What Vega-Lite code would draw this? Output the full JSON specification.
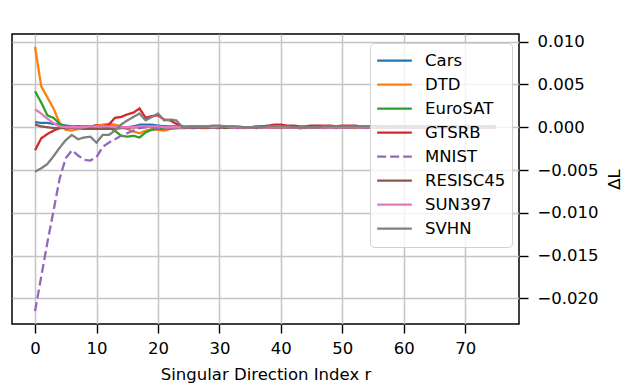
{
  "$schema": "https://vega.github.io/schema/vega-lite/v6.json",
  "width": 507,
  "height": 290,
  "padding": {"left": 12, "top": 33, "right": 0, "bottom": 0},
  "background": "white",
  "config": {
    "font": "DejaVu Sans",
    "view": {"stroke": "black", "strokeWidth": 1.5},
    "axis": {
      "domain": false,
      "grid": true,
      "gridColor": "#c4c4c4",
      "gridWidth": 1.5,
      "tickColor": "black",
      "tickWidth": 1.4,
      "tickSize": 9,
      "labelFontSize": 16.5,
      "labelColor": "black",
      "labelPadding": 7,
      "titleFontSize": 16.5,
      "titleFontWeight": "normal",
      "titleColor": "black"
    },
    "legend": {
      "title": null,
      "orient": "none",
      "legendX": 358,
      "legendY": 9,
      "fillColor": "rgba(255,255,255,0.8)",
      "strokeColor": "#d0d0d0",
      "cornerRadius": 4,
      "padding": 6,
      "symbolType": "stroke",
      "symbolSize": 1200,
      "symbolStrokeWidth": 2.3,
      "labelFontSize": 16.5,
      "labelColor": "black",
      "labelOffset": 12,
      "clipHeight": 23.3,
      "rowPadding": 0
    }
  },
  "data": {
    "values": [
      {"r":0,"Cars":0.0006,"DTD":0.0094,"EuroSAT":0.0042,"GTSRB":-0.0027,"MNIST":-0.0215,"RESISC45":0.0003,"SUN397":0.0021,"SVHN":-0.0052},
      {"r":1,"Cars":0.0005,"DTD":0.0048,"EuroSAT":0.0029,"GTSRB":-0.0013,"MNIST":-0.0175,"RESISC45":0.0001,"SUN397":0.0016,"SVHN":-0.0048},
      {"r":2,"Cars":0.0005,"DTD":0.0035,"EuroSAT":0.0014,"GTSRB":-0.0008,"MNIST":-0.0135,"RESISC45":0.0,"SUN397":0.0010,"SVHN":-0.0043},
      {"r":3,"Cars":0.0004,"DTD":0.0022,"EuroSAT":0.0011,"GTSRB":-0.0004,"MNIST":-0.0098,"RESISC45":-0.0001,"SUN397":0.0005,"SVHN":-0.0034},
      {"r":4,"Cars":0.0003,"DTD":0.0005,"EuroSAT":0.0004,"GTSRB":-0.0001,"MNIST":-0.0060,"RESISC45":-0.0001,"SUN397":0.0001,"SVHN":-0.0024},
      {"r":5,"Cars":0.0002,"DTD":-0.0003,"EuroSAT":0.0001,"GTSRB":0.0,"MNIST":-0.0036,"RESISC45":-0.0001,"SUN397":0.0,"SVHN":-0.0015},
      {"r":6,"Cars":0.0001,"DTD":-0.0004,"EuroSAT":0.0,"GTSRB":0.0,"MNIST":-0.0027,"RESISC45":-0.0001,"SUN397":0.0,"SVHN":-0.0009},
      {"r":7,"Cars":0.0001,"DTD":-0.0002,"EuroSAT":0.0,"GTSRB":0.0001,"MNIST":-0.0033,"RESISC45":-0.0001,"SUN397":0.0,"SVHN":-0.0014},
      {"r":8,"Cars":0.0001,"DTD":0.0,"EuroSAT":0.0,"GTSRB":0.0,"MNIST":-0.0038,"RESISC45":-0.0002,"SUN397":0.0,"SVHN":-0.0012},
      {"r":9,"Cars":0.0001,"DTD":0.0001,"EuroSAT":0.0001,"GTSRB":0.0001,"MNIST":-0.0039,"RESISC45":-0.0002,"SUN397":0.0001,"SVHN":-0.0011},
      {"r":10,"Cars":0.0002,"DTD":0.0002,"EuroSAT":0.0001,"GTSRB":0.0002,"MNIST":-0.0035,"RESISC45":-0.0002,"SUN397":0.0001,"SVHN":-0.0018},
      {"r":11,"Cars":0.0002,"DTD":0.0003,"EuroSAT":0.0001,"GTSRB":0.0001,"MNIST":-0.0023,"RESISC45":-0.0002,"SUN397":0.0001,"SVHN":-0.0009},
      {"r":12,"Cars":0.0001,"DTD":0.0004,"EuroSAT":0.0,"GTSRB":0.0003,"MNIST":-0.0018,"RESISC45":-0.0002,"SUN397":0.0001,"SVHN":-0.0009},
      {"r":13,"Cars":0.0001,"DTD":0.0003,"EuroSAT":-0.0004,"GTSRB":0.0011,"MNIST":-0.0014,"RESISC45":-0.0002,"SUN397":0.0,"SVHN":-0.0004},
      {"r":14,"Cars":0.0,"DTD":0.0001,"EuroSAT":-0.0010,"GTSRB":0.0012,"MNIST":-0.0010,"RESISC45":-0.0001,"SUN397":0.0,"SVHN":0.0003},
      {"r":15,"Cars":0.0,"DTD":-0.0002,"EuroSAT":-0.0011,"GTSRB":0.0015,"MNIST":-0.0007,"RESISC45":-0.0001,"SUN397":0.0,"SVHN":0.0008},
      {"r":16,"Cars":0.0001,"DTD":-0.0005,"EuroSAT":-0.0010,"GTSRB":0.0017,"MNIST":-0.0004,"RESISC45":0.0,"SUN397":0.0,"SVHN":0.0012},
      {"r":17,"Cars":0.0003,"DTD":-0.0007,"EuroSAT":-0.0012,"GTSRB":0.0022,"MNIST":-0.0001,"RESISC45":0.0,"SUN397":0.0001,"SVHN":0.0016},
      {"r":18,"Cars":0.0003,"DTD":-0.0004,"EuroSAT":-0.0006,"GTSRB":0.0011,"MNIST":0.0,"RESISC45":0.0001,"SUN397":0.0001,"SVHN":0.0008},
      {"r":19,"Cars":0.0003,"DTD":-0.0002,"EuroSAT":-0.0003,"GTSRB":0.0013,"MNIST":0.0,"RESISC45":0.0001,"SUN397":0.0001,"SVHN":0.0012},
      {"r":20,"Cars":0.0002,"DTD":-0.0003,"EuroSAT":-0.0002,"GTSRB":0.0014,"MNIST":-0.0001,"RESISC45":0.0001,"SUN397":0.0001,"SVHN":0.0016},
      {"r":21,"Cars":0.0001,"DTD":-0.0004,"EuroSAT":-0.0002,"GTSRB":0.0009,"MNIST":-0.0002,"RESISC45":0.0001,"SUN397":0.0,"SVHN":0.0008},
      {"r":22,"Cars":0.0001,"DTD":-0.0002,"EuroSAT":-0.0001,"GTSRB":0.0008,"MNIST":-0.0002,"RESISC45":0.0,"SUN397":0.0,"SVHN":0.0009},
      {"r":23,"Cars":0.0001,"DTD":-0.0001,"EuroSAT":-0.0001,"GTSRB":0.0004,"MNIST":-0.0001,"RESISC45":0.0,"SUN397":0.0,"SVHN":0.0008},
      {"r":24,"Cars":0.0,"DTD":0.0,"EuroSAT":0.0,"GTSRB":0.0001,"MNIST":-0.0001,"RESISC45":0.0,"SUN397":0.0,"SVHN":0.0},
      {"r":25,"Cars":0.0,"DTD":0.0001,"EuroSAT":0.0,"GTSRB":0.0,"MNIST":-0.0001,"RESISC45":0.0,"SUN397":0.0001,"SVHN":0.0001},
      {"r":26,"Cars":0.0,"DTD":0.0,"EuroSAT":0.0,"GTSRB":0.0001,"MNIST":-0.0001,"RESISC45":0.0,"SUN397":0.0001,"SVHN":0.0001},
      {"r":27,"Cars":0.0001,"DTD":-0.0001,"EuroSAT":0.0,"GTSRB":0.0,"MNIST":0.0,"RESISC45":0.0,"SUN397":0.0001,"SVHN":0.0001},
      {"r":28,"Cars":0.0,"DTD":-0.0001,"EuroSAT":0.0001,"GTSRB":0.0,"MNIST":0.0,"RESISC45":0.0,"SUN397":0.0001,"SVHN":0.0001},
      {"r":29,"Cars":0.0,"DTD":0.0,"EuroSAT":0.0,"GTSRB":0.0001,"MNIST":-0.0001,"RESISC45":0.0,"SUN397":0.0,"SVHN":0.0002},
      {"r":30,"Cars":0.0,"DTD":0.0,"EuroSAT":0.0,"GTSRB":0.0001,"MNIST":-0.0001,"RESISC45":0.0,"SUN397":0.0001,"SVHN":0.0002},
      {"r":31,"Cars":0.0001,"DTD":0.0,"EuroSAT":-0.0001,"GTSRB":0.0,"MNIST":0.0,"RESISC45":0.0,"SUN397":0.0001,"SVHN":0.0001},
      {"r":32,"Cars":0.0,"DTD":0.0,"EuroSAT":0.0,"GTSRB":0.0001,"MNIST":0.0,"RESISC45":0.0,"SUN397":0.0,"SVHN":0.0001},
      {"r":33,"Cars":0.0,"DTD":-0.0001,"EuroSAT":0.0,"GTSRB":0.0,"MNIST":-0.0001,"RESISC45":0.0,"SUN397":0.0,"SVHN":0.0001},
      {"r":34,"Cars":0.0,"DTD":0.0,"EuroSAT":0.0,"GTSRB":0.0,"MNIST":-0.0001,"RESISC45":0.0,"SUN397":0.0,"SVHN":0.0},
      {"r":35,"Cars":0.0,"DTD":0.0,"EuroSAT":0.0,"GTSRB":0.0,"MNIST":0.0,"RESISC45":0.0,"SUN397":0.0,"SVHN":0.0},
      {"r":36,"Cars":0.0,"DTD":0.0,"EuroSAT":0.0,"GTSRB":0.0001,"MNIST":-0.0001,"RESISC45":-0.0001,"SUN397":0.0,"SVHN":0.0},
      {"r":37,"Cars":0.0001,"DTD":0.0,"EuroSAT":0.0,"GTSRB":0.0001,"MNIST":0.0,"RESISC45":0.0,"SUN397":0.0,"SVHN":0.0},
      {"r":38,"Cars":0.0,"DTD":0.0,"EuroSAT":0.0001,"GTSRB":0.0002,"MNIST":0.0,"RESISC45":0.0,"SUN397":0.0,"SVHN":0.0001},
      {"r":39,"Cars":0.0,"DTD":-0.0001,"EuroSAT":0.0,"GTSRB":0.0003,"MNIST":0.0,"RESISC45":0.0,"SUN397":0.0,"SVHN":0.0001},
      {"r":40,"Cars":0.0,"DTD":0.0,"EuroSAT":0.0,"GTSRB":0.0003,"MNIST":-0.0001,"RESISC45":0.0,"SUN397":0.0,"SVHN":0.0001},
      {"r":41,"Cars":0.0,"DTD":0.0,"EuroSAT":0.0,"GTSRB":0.0002,"MNIST":0.0,"RESISC45":0.0,"SUN397":0.0,"SVHN":0.0001},
      {"r":42,"Cars":0.0,"DTD":0.0,"EuroSAT":0.0001,"GTSRB":0.0002,"MNIST":0.0,"RESISC45":0.0,"SUN397":0.0,"SVHN":0.0},
      {"r":43,"Cars":0.0,"DTD":-0.0001,"EuroSAT":0.0,"GTSRB":0.0001,"MNIST":-0.0001,"RESISC45":0.0,"SUN397":0.0,"SVHN":0.0},
      {"r":44,"Cars":0.0,"DTD":-0.0001,"EuroSAT":0.0,"GTSRB":0.0001,"MNIST":-0.0001,"RESISC45":0.0,"SUN397":0.0,"SVHN":0.0},
      {"r":45,"Cars":0.0,"DTD":0.0,"EuroSAT":0.0,"GTSRB":0.0002,"MNIST":0.0,"RESISC45":0.0,"SUN397":0.0,"SVHN":0.0},
      {"r":46,"Cars":0.0,"DTD":0.0,"EuroSAT":0.0,"GTSRB":0.0002,"MNIST":-0.0001,"RESISC45":0.0,"SUN397":0.0,"SVHN":0.0},
      {"r":47,"Cars":0.0,"DTD":-0.0001,"EuroSAT":0.0,"GTSRB":0.0002,"MNIST":0.0,"RESISC45":0.0,"SUN397":0.0,"SVHN":0.0001},
      {"r":48,"Cars":0.0,"DTD":0.0,"EuroSAT":0.0001,"GTSRB":0.0002,"MNIST":0.0,"RESISC45":0.0,"SUN397":0.0,"SVHN":0.0001},
      {"r":49,"Cars":0.0,"DTD":0.0,"EuroSAT":0.0,"GTSRB":0.0001,"MNIST":-0.0001,"RESISC45":0.0,"SUN397":0.0,"SVHN":0.0001},
      {"r":50,"Cars":0.0,"DTD":0.0,"EuroSAT":0.0,"GTSRB":0.0002,"MNIST":0.0,"RESISC45":0.0,"SUN397":0.0,"SVHN":0.0001},
      {"r":51,"Cars":0.0,"DTD":0.0,"EuroSAT":0.0,"GTSRB":0.0002,"MNIST":0.0,"RESISC45":0.0,"SUN397":0.0,"SVHN":0.0001},
      {"r":52,"Cars":0.0,"DTD":-0.0001,"EuroSAT":0.0,"GTSRB":0.0002,"MNIST":0.0,"RESISC45":0.0,"SUN397":0.0,"SVHN":0.0001},
      {"r":53,"Cars":0.0,"DTD":0.0,"EuroSAT":0.0,"GTSRB":0.0001,"MNIST":0.0,"RESISC45":0.0,"SUN397":0.0,"SVHN":0.0001},
      {"r":54,"Cars":0.0,"DTD":0.0,"EuroSAT":0.0,"GTSRB":0.0001,"MNIST":-0.0001,"RESISC45":0.0,"SUN397":0.0,"SVHN":0.0001},
      {"r":55,"Cars":0.0,"DTD":0.0,"EuroSAT":0.0,"GTSRB":0.0001,"MNIST":0.0,"RESISC45":0.0,"SUN397":0.0,"SVHN":0.0001},
      {"r":56,"Cars":0.0,"DTD":0.0,"EuroSAT":0.0,"GTSRB":0.0001,"MNIST":0.0,"RESISC45":0.0,"SUN397":0.0,"SVHN":0.0},
      {"r":57,"Cars":0.0,"DTD":0.0,"EuroSAT":0.0,"GTSRB":0.0001,"MNIST":0.0,"RESISC45":0.0,"SUN397":0.0,"SVHN":0.0001},
      {"r":58,"Cars":0.0,"DTD":0.0,"EuroSAT":0.0,"GTSRB":0.0001,"MNIST":-0.0001,"RESISC45":0.0,"SUN397":0.0,"SVHN":0.0001},
      {"r":59,"Cars":0.0,"DTD":0.0,"EuroSAT":0.0,"GTSRB":0.0001,"MNIST":0.0,"RESISC45":0.0,"SUN397":0.0,"SVHN":0.0},
      {"r":60,"Cars":0.0,"DTD":0.0,"EuroSAT":0.0,"GTSRB":0.0001,"MNIST":0.0,"RESISC45":0.0,"SUN397":0.0,"SVHN":0.0001},
      {"r":61,"Cars":0.0,"DTD":0.0,"EuroSAT":0.0,"GTSRB":0.0001,"MNIST":0.0,"RESISC45":0.0,"SUN397":0.0,"SVHN":0.0001},
      {"r":62,"Cars":0.0,"DTD":0.0,"EuroSAT":0.0,"GTSRB":0.0001,"MNIST":0.0,"RESISC45":0.0,"SUN397":0.0,"SVHN":0.0},
      {"r":63,"Cars":0.0,"DTD":0.0,"EuroSAT":0.0,"GTSRB":0.0001,"MNIST":-0.0001,"RESISC45":0.0,"SUN397":0.0,"SVHN":0.0001},
      {"r":64,"Cars":0.0,"DTD":0.0,"EuroSAT":0.0,"GTSRB":0.0001,"MNIST":0.0,"RESISC45":0.0,"SUN397":0.0,"SVHN":0.0001},
      {"r":65,"Cars":0.0,"DTD":0.0,"EuroSAT":0.0,"GTSRB":0.0001,"MNIST":0.0,"RESISC45":0.0,"SUN397":0.0,"SVHN":0.0},
      {"r":66,"Cars":0.0,"DTD":0.0,"EuroSAT":0.0,"GTSRB":0.0001,"MNIST":0.0,"RESISC45":0.0,"SUN397":0.0,"SVHN":0.0001},
      {"r":67,"Cars":0.0,"DTD":0.0,"EuroSAT":0.0,"GTSRB":0.0001,"MNIST":0.0,"RESISC45":0.0,"SUN397":0.0,"SVHN":0.0001},
      {"r":68,"Cars":0.0,"DTD":0.0,"EuroSAT":0.0,"GTSRB":0.0001,"MNIST":0.0,"RESISC45":0.0,"SUN397":0.0,"SVHN":0.0},
      {"r":69,"Cars":0.0,"DTD":0.0,"EuroSAT":0.0,"GTSRB":0.0001,"MNIST":0.0,"RESISC45":0.0,"SUN397":0.0,"SVHN":0.0001},
      {"r":70,"Cars":0.0,"DTD":0.0,"EuroSAT":0.0,"GTSRB":0.0001,"MNIST":0.0,"RESISC45":0.0,"SUN397":0.0,"SVHN":0.0001},
      {"r":71,"Cars":0.0,"DTD":0.0,"EuroSAT":0.0,"GTSRB":0.0001,"MNIST":0.0,"RESISC45":0.0,"SUN397":0.0,"SVHN":0.0},
      {"r":72,"Cars":0.0,"DTD":0.0,"EuroSAT":0.0,"GTSRB":0.0001,"MNIST":0.0,"RESISC45":0.0,"SUN397":0.0,"SVHN":0.0001},
      {"r":73,"Cars":0.0,"DTD":0.0,"EuroSAT":0.0,"GTSRB":0.0001,"MNIST":0.0,"RESISC45":0.0,"SUN397":0.0,"SVHN":0.0001},
      {"r":74,"Cars":0.0,"DTD":0.0,"EuroSAT":0.0,"GTSRB":0.0001,"MNIST":0.0,"RESISC45":0.0,"SUN397":0.0,"SVHN":0.0},
      {"r":75,"Cars":0.0,"DTD":0.0,"EuroSAT":0.0,"GTSRB":0.0001,"MNIST":0.0,"RESISC45":0.0,"SUN397":0.0,"SVHN":0.0001}
    ]
  },
  "transform": [
    {"fold": ["Cars", "DTD", "EuroSAT", "GTSRB", "MNIST", "RESISC45", "SUN397", "SVHN"], "as": ["dataset", "dL"]}
  ],
  "mark": {"type": "line", "strokeWidth": 2.3},
  "encoding": {
    "x": {
      "field": "r",
      "type": "quantitative",
      "scale": {"domain": [-3.75, 78.75], "nice": false, "zero": false},
      "axis": {"values": [0, 10, 20, 30, 40, 50, 60, 70], "title": "Singular Direction Index r", "titlePadding": 10}
    },
    "y": {
      "field": "dL",
      "type": "quantitative",
      "scale": {"domain": [-0.0230, 0.0109], "nice": false, "zero": false},
      "axis": {
        "orient": "right",
        "values": [-0.02, -0.015, -0.01, -0.005, 0, 0.005, 0.01],
        "format": ".3f",
        "labelPadding": 9,
        "title": "ΔL",
        "titleAngle": 270,
        "titleX": 95,
        "titleY": 145,
        "titleAlign": "center",
        "titleBaseline": "middle"
      }
    },
    "color": {
      "field": "dataset",
      "type": "nominal",
      "scale": {
        "domain": ["Cars", "DTD", "EuroSAT", "GTSRB", "MNIST", "RESISC45", "SUN397", "SVHN"],
        "range": ["#1f77b4", "#ff7f0e", "#2ca02c", "#d62728", "#9467bd", "#8c564b", "#e377c2", "#7f7f7f"]
      }
    },
    "strokeDash": {
      "field": "dataset",
      "type": "nominal",
      "scale": {
        "domain": ["Cars", "DTD", "EuroSAT", "GTSRB", "MNIST", "RESISC45", "SUN397", "SVHN"],
        "range": [[1, 0], [1, 0], [1, 0], [1, 0], [9, 4], [1, 0], [1, 0], [1, 0]]
      }
    }
  }
}
